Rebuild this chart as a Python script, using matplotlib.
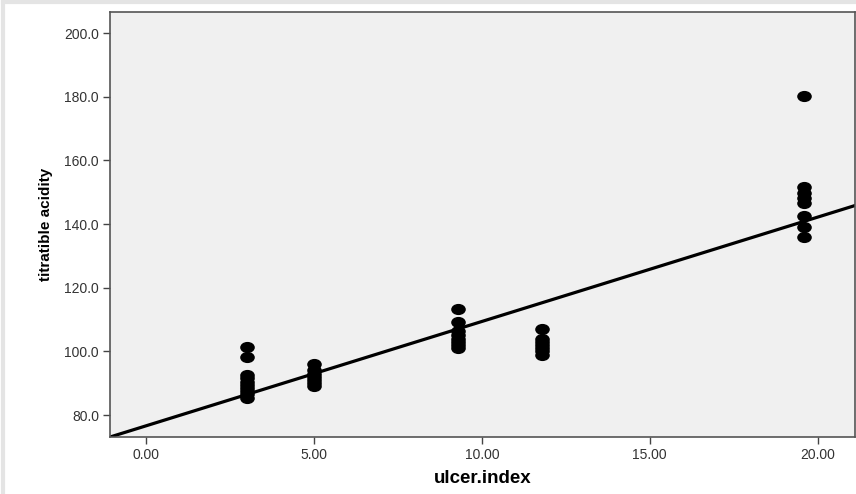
import numpy as np
import matplotlib
matplotlib.use("Agg")
import matplotlib.pyplot as plt
from matplotlib.path import Path
from matplotlib.ticker import FormatStrFormatter

# ulcer.index groups and titratable acidity readings
ulcer_index = [3.0, 5.0, 9.3, 11.8, 19.6]
acidity_groups = [
    [101.3, 98.1, 92.5, 91.5, 90.5, 89.5, 88.5, 87.5, 86.5, 85.2],
    [96.0, 94.0, 93.0, 92.0, 91.0, 90.0, 89.0],
    [113.2, 109.1, 106.5, 105.0, 104.0, 103.0, 102.0, 101.0],
    [107.0, 104.0, 103.0, 102.0, 101.0, 100.0, 99.0],
    [180.2, 151.6, 149.9, 148.2, 146.6, 142.7, 139.0, 136.0],
]
# fit line as drawn (intercept, slope)
fit_intercept = 76.6
fit_slope = 3.28

xticks = [0, 5, 10, 15, 20]
yticks = [80, 100, 120, 140, 160, 180, 200]

xs = np.concatenate([[x] * len(g) for x, g in zip(ulcer_index, acidity_groups)])
ys = np.concatenate(acidity_groups)

# flat ellipse marker like SPSS
circ = Path.unit_circle()
ell = Path(circ.vertices * [1.35, 1.0], circ.codes)

fig = plt.figure(figsize=(8.56, 4.94), dpi=100)
ax = fig.add_axes([0.1285, 0.1154, 0.870, 0.860])
ax.set_facecolor("#f0f0f0")

xlim = (-1.07, 21.1)
ylim = (73.1, 206.6)
lx = np.array(xlim)
ax.plot(lx, fit_intercept + fit_slope * lx, color="black", lw=2.3, zorder=2)
ax.scatter(xs, ys, marker=ell, s=90, color="black", zorder=3)

ax.set_xlim(*xlim)
ax.set_ylim(*ylim)
ax.set_xticks(xticks)
ax.set_yticks(yticks)
ax.xaxis.set_major_formatter(FormatStrFormatter("%.2f"))
ax.yaxis.set_major_formatter(FormatStrFormatter("%.1f"))
ax.tick_params(direction="out", length=5, width=1, color="#444444",
               labelsize=10, labelcolor="#333333", pad=3)
for lab in ax.get_xticklabels() + ax.get_yticklabels():
    lab.set_family("Liberation Sans")
for sp in ax.spines.values():
    sp.set_color("#555555")
    sp.set_linewidth(1.2)

ax.set_xlabel("ulcer.index", family="Liberation Sans", fontsize=13.5,
              fontweight="bold", labelpad=6)
ax.set_ylabel("titratible acidity", family="Liberation Sans",
              fontsize=11, fontweight="bold", labelpad=8)

# faint shading along top and left edges like the SPSS export
fig.add_artist(plt.Line2D([0.004, 0.004], [0.0, 0.996], transform=fig.transFigure,
                          color="#e4e4e4", lw=3))
fig.add_artist(plt.Line2D([0.004, 1.0], [0.996, 0.996], transform=fig.transFigure,
                          color="#e4e4e4", lw=3))

fig.savefig("out.png", dpi=100, facecolor="white")
